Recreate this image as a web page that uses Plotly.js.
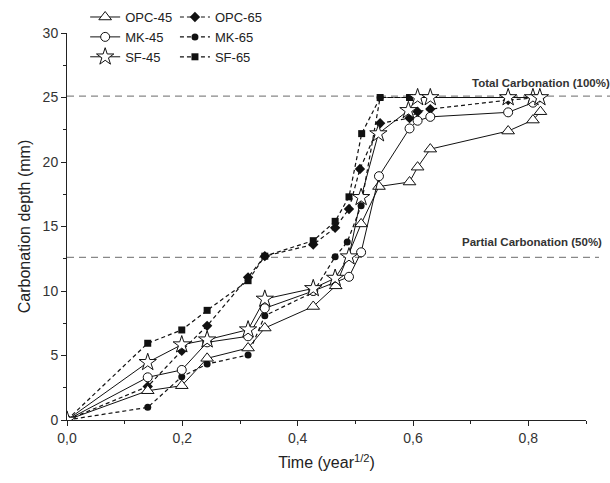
<!DOCTYPE html>
<html>
<head>
<meta charset="utf-8">
<script src="https://cdn.plot.ly/plotly-3.0.1.min.js"></script>
<style>html,body{margin:0;padding:0;background:#fff;}#chart{width:610px;height:483px;}</style>
</head>
<body>
<div id="chart"></div>
<script>
// ---- data (time in year^1/2, carbonation depth in mm) ----
const opc45_x = [0, 0.140, 0.199, 0.243, 0.314, 0.343, 0.427, 0.466, 0.510, 0.541, 0.594, 0.608, 0.630, 0.765, 0.808, 0.821];
const opc45_y = [0, 2.27, 2.66, 4.78, 5.58, 7.13, 8.8, 10.4, 15.2, 18.1, 18.45, 19.6, 21.0, 22.4, 23.25, 23.9];

const mk45_x = [0, 0.140, 0.199, 0.243, 0.314, 0.343, 0.427, 0.489, 0.510, 0.541, 0.594, 0.608, 0.630, 0.765, 0.808];
const mk45_y = [0, 3.31, 3.88, 6.02, 6.49, 8.66, 10.0, 11.1, 13.0, 18.9, 22.6, 23.2, 23.5, 23.85, 24.6];

const sf45_x = [0, 0.140, 0.199, 0.243, 0.314, 0.343, 0.427, 0.465, 0.489, 0.510, 0.540, 0.592, 0.608, 0.630, 0.765, 0.808, 0.820];
const sf45_y = [0, 4.47, 5.84, 6.22, 7.0, 9.38, 10.2, 11.0, 12.66, 17.26, 22.2, 24.0, 25.0, 25.0, 25.0, 25.0, 25.0];

const opc65_x = [0, 0.140, 0.199, 0.243, 0.314, 0.343, 0.427, 0.465, 0.489, 0.508, 0.543, 0.594, 0.608, 0.630, 0.765, 0.808, 0.820];
const opc65_y = [0, 2.6, 5.37, 7.3, 11.06, 12.7, 13.6, 14.9, 16.36, 19.46, 23.0, 23.4, 23.9, 24.1, 24.8, 25.0, 25.0];

const mk65_x = [0, 0.140, 0.199, 0.243, 0.314, 0.343, 0.427, 0.465, 0.486, 0.510, 0.543, 0.594, 0.608, 0.630, 0.765, 0.808, 0.820];
const mk65_y = [0, 0.98, 3.36, 4.34, 5.04, 8.09, 9.9, 12.65, 13.8, 16.6, 25.0, 25.0, 25.0, 25.0, 25.0, 25.0, 25.0];

const sf65_x = [0, 0.140, 0.199, 0.243, 0.314, 0.343, 0.427, 0.465, 0.489, 0.511, 0.543, 0.594, 0.608, 0.630, 0.765, 0.808, 0.820];
const sf65_y = [0, 5.95, 6.98, 8.5, 10.8, 12.7, 13.9, 15.4, 17.3, 22.2, 25.0, 25.0, 25.0, 25.0, 25.0, 25.0, 25.0];

const totalLevel = 25.1;
const partialLevel = 12.6;
const xTickVals = [0, 0.2, 0.4, 0.6, 0.8];
const yTickVals = [0, 5, 10, 15, 20, 25, 30];

// ---- styling ----
const FONT = 'Liberation Sans, Arial, sans-serif';
function openTrace(name, x, y, symbol, size, legend) {
  return {
    type: 'scatter', mode: 'lines+markers', name: name, x: x, y: y, legend: legend,
    line: {color: '#111', width: 1, dash: 'solid'},
    marker: {symbol: symbol, size: size, color: '#fff', line: {color: '#111', width: 1}}
  };
}
function filledTrace(name, x, y, symbol, size, legend) {
  return {
    type: 'scatter', mode: 'lines+markers', name: name, x: x, y: y, legend: legend,
    line: {color: '#111', width: 1.2, dash: '4px,3px'},
    marker: {symbol: symbol, size: size, color: '#111', line: {color: '#111', width: 0}}
  };
}

const traces = [
  filledTrace('OPC-65', opc65_x, opc65_y, 'diamond', 8, 'legend2'),
  filledTrace('MK-65', mk65_x, mk65_y, 'circle', 7, 'legend2'),
  filledTrace('SF-65', sf65_x, sf65_y, 'square', 7, 'legend2'),
  openTrace('OPC-45', opc45_x, opc45_y, 'triangle-up', 11, 'legend'),
  openTrace('MK-45', mk45_x, mk45_y, 'circle', 9, 'legend'),
  openTrace('SF-45', sf45_x, sf45_y, 'star', 13, 'legend')
];

const axisCommon = {
  showline: true, linecolor: '#222', linewidth: 1, mirror: false,
  showgrid: false, zeroline: false,
  ticks: 'outside', ticklen: 5, tickwidth: 1, tickcolor: '#222',
  tickfont: {family: FONT, size: 14, color: '#333'}
};

const legendCommon = {
  xanchor: 'left', yanchor: 'top',
  bgcolor: 'rgba(0,0,0,0)', borderwidth: 0,
  font: {family: FONT, size: 13, color: '#222'},
  traceorder: 'normal', tracegroupgap: 0, itemwidth: 30
};

const layout = {
  width: 610, height: 483,
  margin: {l: 67, r: 24, t: 33, b: 63, autoexpand: false},
  paper_bgcolor: '#fff', plot_bgcolor: '#fff',
  separators: ',.',
  font: {family: FONT, color: '#222'},
  xaxis: Object.assign({}, axisCommon, {
    range: [0, 0.9], tickvals: xTickVals, tickformat: '.1f',
    minor: {dtick: 0.1, ticks: 'outside', ticklen: 3, tickcolor: '#222'},
    title: {text: 'Time (year<sup>1/2</sup>)', font: {family: FONT, size: 16, color: '#222'}, standoff: 12}
  }),
  yaxis: Object.assign({}, axisCommon, {
    range: [0, 30], tickvals: yTickVals,
    minor: {dtick: 2.5, ticks: 'outside', ticklen: 3, tickcolor: '#222'},
    title: {text: 'Carbonation depth (mm)', font: {family: FONT, size: 16, color: '#222'}, standoff: 8}
  }),
  legend: Object.assign({}, legendCommon, {x: 0.035, y: 1.08}),
  legend2: Object.assign({}, legendCommon, {x: 0.208, y: 1.08}),
  shapes: [
    {type: 'line', xref: 'paper', x0: 0, x1: 1.05, yref: 'y', y0: totalLevel, y1: totalLevel,
     line: {color: '#888', width: 1.3, dash: '7px,5px'}, layer: 'below'},
    {type: 'line', xref: 'paper', x0: 0, x1: 1.025, yref: 'y', y0: partialLevel, y1: partialLevel,
     line: {color: '#888', width: 1.3, dash: '7px,5px'}, layer: 'below'}
  ],
  annotations: [
    {xref: 'paper', yref: 'y', x: 1.05, y: totalLevel, xanchor: 'right', yanchor: 'bottom', yshift: 5,
     text: '<b>Total Carbonation (100%)</b>', showarrow: false, font: {family: FONT, size: 11.5, color: '#333'}},
    {xref: 'paper', yref: 'y', x: 1.035, y: partialLevel, xanchor: 'right', yanchor: 'bottom', yshift: 7,
     text: '<b>Partial Carbonation (50%)</b>', showarrow: false, font: {family: FONT, size: 11.5, color: '#333'}}
  ]
};

Plotly.newPlot('chart', traces, layout, {displayModeBar: false, staticPlot: true});
</script>
</body>
</html>
